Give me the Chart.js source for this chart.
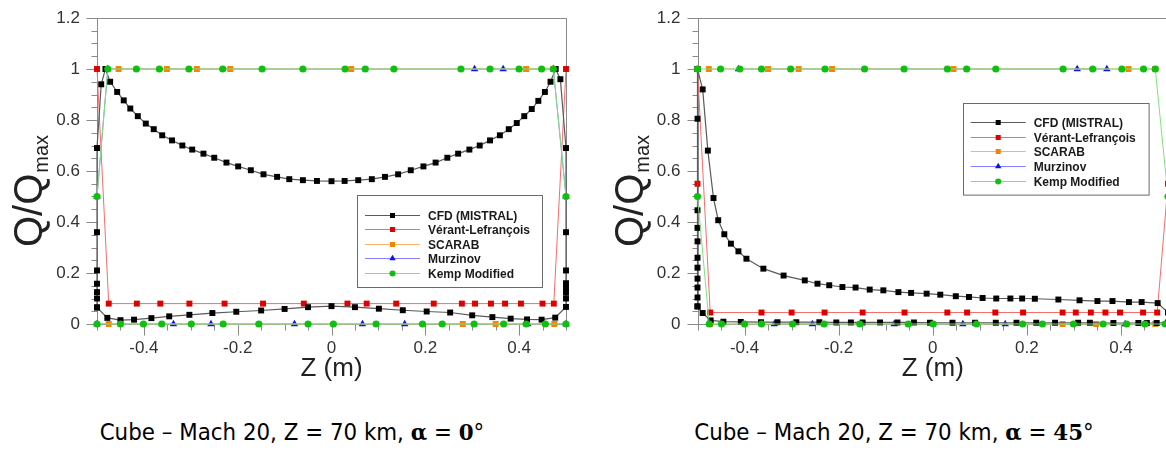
<!DOCTYPE html>
<html>
<head>
<meta charset="utf-8">
<script src="https://cdn.jsdelivr.net/npm/chart.js@4.4.1/dist/chart.umd.min.js"></script>
<style>
html, body { margin: 0; padding: 0; background: #fff; width: 1166px; height: 450px; overflow: hidden; }
.box { position: absolute; top: 0; height: 400px; }
#boxA { left: 0; width: 590px; }
#boxB { left: 600px; width: 580px; }
.caption { position: absolute; top: 418px; font-family: Tahoma, "DejaVu Sans", sans-serif; font-size: 23px; color: #000; white-space: nowrap; transform: translateX(-50%) scaleX(0.93); }
.caption .m { font-family: "DejaVu Serif", serif; font-weight: bold; }
</style>
</head>
<body>
<div class="box" id="boxA"><canvas id="chartA" width="590" height="400"></canvas></div>
<div class="box" id="boxB"><canvas id="chartB" width="580" height="400"></canvas></div>
<div class="caption" style="left:292px">Cube – Mach 20, Z = 70 km, <span class="m">α</span> = <span class="m">0</span>°</div>
<div class="caption" style="left:894px">Cube – Mach 20, Z = 70 km, <span class="m">α</span> = <span class="m">45</span>°</div>
<script>
// ---- axes ----
const xTickVals = [-0.4, -0.2, 0, 0.2, 0.4];
const xTickLabels = ['-0.4', '-0.2', '0', '0.2', '0.4'];
const yTickVals = [0, 0.2, 0.4, 0.6, 0.8, 1, 1.2];
const yTickLabels = ['0', '0.2', '0.4', '0.6', '0.8', '1', '1.2'];
const seriesNames = ['CFD (MISTRAL)', 'Vérant-Lefrançois', 'SCARAB', 'Murzinov', 'Kemp Modified'];

// ---- alpha = 0 deg ----
const cfd0 = [[-0.5,0.065],[-0.5,0.10],[-0.5,0.125],[-0.5,0.158],[-0.5,0.21],[-0.5,0.36],[-0.5,0.69],[-0.491,0.94],[-0.482,1.0],
  [-0.472,0.95],[-0.457,0.91],[-0.443,0.877],[-0.429,0.845],[-0.413,0.815],[-0.396,0.786],[-0.379,0.764],[-0.361,0.74],[-0.34,0.72],
  [-0.318,0.70],[-0.297,0.684],[-0.273,0.668],[-0.25,0.652],[-0.224,0.633],[-0.199,0.618],[-0.172,0.603],[-0.145,0.587],[-0.116,0.577],
  [-0.09,0.568],[-0.061,0.564],[-0.031,0.561],[0,0.56],[0.028,0.561],[0.057,0.564],[0.086,0.568],[0.114,0.577],[0.142,0.587],[0.169,0.603],
  [0.196,0.618],[0.222,0.633],[0.247,0.652],[0.27,0.668],[0.294,0.684],[0.316,0.70],[0.338,0.72],[0.359,0.74],[0.378,0.764],[0.395,0.788],
  [0.411,0.815],[0.427,0.843],[0.441,0.875],[0.455,0.91],[0.467,0.95],[0.478,1.0],[0.488,0.96],
  [0.5,0.69],[0.5,0.36],[0.5,0.21],[0.5,0.16],[0.5,0.143],[0.5,0.123],[0.5,0.10],[0.5,0.067],
  [0.477,0.025],[0.448,0.017],[0.417,0.018],[0.382,0.021],[0.343,0.027],[0.30,0.034],[0.253,0.045],[0.203,0.049],[0.152,0.054],
  [0.101,0.06],[0.05,0.066],[0,0.07],[-0.05,0.066],[-0.1,0.059],[-0.15,0.053],[-0.203,0.048],[-0.254,0.043],[-0.303,0.036],
  [-0.346,0.03],[-0.384,0.023],[-0.421,0.017],[-0.45,0.015],[-0.478,0.024],[-0.5,0.065]];
const verant0 = [[-0.5,1.0],[-0.475,0.08],[-0.415,0.08],[-0.365,0.08],[-0.303,0.08],[-0.228,0.08],[-0.146,0.08],[-0.059,0.08],
  [0.034,0.08],[0.075,0.08],[0.138,0.08],[0.218,0.08],[0.278,0.08],[0.306,0.08],[0.34,0.08],[0.37,0.08],[0.404,0.08],[0.45,0.08],
  [0.474,0.08],[0.5,1.0]];
const scarab0Top = [[-0.454,1],[-0.351,1],[-0.287,1],[-0.216,1],[0.042,1],[0.415,1],[0.473,1]];
const scarab0Side = [[-0.475,0],[0.28,0],[0.35,0],[0.475,0]];
const murz0Top = [[-0.5,0.5],[-0.477,1],[0.305,1],[0.366,1],[0.473,1],[0.5,0.5]];
const murz0Side = [[-0.5,0],[-0.337,0],[-0.257,0],[-0.079,0],[0.066,0],[0.156,0],[0.418,0],[0.5,0]];
const kemp0Top = [[-0.5,0.5],[-0.477,1],[-0.416,1],[-0.367,1],[-0.304,1],[-0.232,1],[-0.148,1],[-0.061,1],[0.029,1],[0.072,1],
  [0.133,1],[0.276,1],[0.338,1],[0.40,1],[0.448,1],[0.473,1],[0.5,0.5]];
const kemp0Side = [[-0.5,0],[-0.45,0],[-0.401,0],[-0.362,0],[-0.299,0],[-0.231,0],[-0.155,0],[-0.05,0],[0.004,0],[0.095,0],
  [0.194,0],[0.236,0],[0.304,0],[0.367,0],[0.415,0],[0.456,0],[0.5,0]];

// ---- alpha = 45 deg ----
const cfd45 = [[-0.5,0.069],[-0.5,0.104],[-0.5,0.143],[-0.5,0.178],[-0.5,0.221],[-0.5,0.26],[-0.5,0.324],[-0.5,0.377],[-0.5,0.446],
  [-0.5,0.805],[-0.5,1.0],[-0.489,0.92],[-0.478,0.68],[-0.466,0.494],[-0.456,0.407],[-0.443,0.352],[-0.429,0.315],[-0.413,0.285],
  [-0.396,0.256],[-0.36,0.217],[-0.317,0.19],[-0.272,0.171],[-0.245,0.158],[-0.22,0.152],[-0.192,0.145],[-0.164,0.143],[-0.134,0.135],
  [-0.105,0.132],[-0.073,0.125],[-0.046,0.122],[-0.013,0.119],[0.016,0.115],[0.049,0.109],[0.077,0.106],[0.106,0.102],[0.135,0.10],
  [0.165,0.10],[0.19,0.10],[0.217,0.099],[0.267,0.096],[0.312,0.093],[0.35,0.09],[0.382,0.09],[0.417,0.086],[0.444,0.086],[0.478,0.082],
  [0.5,0.045],[0.5,0.006],[0.476,0.004],[0.455,0.004],[0.437,0.004],[0.384,0.004],[0.334,0.005],[0.309,0.005],[0.26,0.005],[0.22,0.005],
  [0.178,0.005],[0.134,0.005],[0.09,0.005],[0.042,0.005],[-0.006,0.005],[-0.04,0.006],[-0.075,0.006],[-0.112,0.006],[-0.149,0.006],
  [-0.174,0.006],[-0.205,0.006],[-0.241,0.007],[-0.29,0.007],[-0.33,0.007],[-0.365,0.007],[-0.408,0.008],[-0.445,0.009],[-0.472,0.014],
  [-0.489,0.043],[-0.5,0.069]];
const verant45 = [[-0.5,0.55],[-0.5,1.0],[-0.473,0.045],[-0.364,0.045],[-0.30,0.045],[-0.23,0.045],[-0.149,0.045],[-0.06,0.045],[0.031,0.045],
  [0.073,0.045],[0.133,0.045],[0.192,0.045],[0.276,0.045],[0.304,0.045],[0.336,0.045],[0.367,0.045],[0.398,0.045],[0.447,0.045],
  [0.477,0.045],[0.5,0.55]];
const scarab45Top = [[-0.476,1],[-0.35,1],[-0.285,1],[-0.214,1],[0.044,1],[0.416,1],[0.473,1]];
const scarab45Side = [[-0.473,0],[0.276,0],[0.347,0],[0.473,0]];
const murz45Top = [[-0.413,1],[0.307,1],[0.37,1]];
const murz45Side = [[-0.337,0],[-0.256,0],[-0.082,0],[0.064,0],[0.154,0],[0.409,0]];
const kemp45Top = [[-0.5,1],[-0.451,1],[-0.41,1],[-0.364,1],[-0.302,1],[-0.229,1],[-0.145,1],[-0.061,1],[0.031,1],[0.072,1],
  [0.134,1],[0.277,1],[0.34,1],[0.402,1],[0.448,1],[0.473,1],[0.5,0.5]];
const kemp45Side = [[-0.5,0.5],[-0.475,0],[-0.449,0],[-0.40,0],[-0.364,0],[-0.298,0],[-0.231,0],[-0.155,0],[-0.052,0],[0.001,0],
  [0.093,0],[0.191,0],[0.233,0],[0.299,0],[0.362,0],[0.412,0],[0.451,0],[0.494,0]];

const FONT = '"Liberation Sans", Arial, Helvetica, sans-serif';
// line colour, marker colour, marker shape, radius, draw order (0 = on top)
const looks = [
  {line: '#5a5a5a', mark: '#000000', shape: 'rect', r: 4.2, order: 1},
  {line: '#f26d6d', mark: '#e00000', shape: 'rect', r: 4.2, order: 2},
  {line: '#f9b46a', mark: '#f58200', shape: 'rect', r: 4.2, order: 3},
  {line: '#7f7fff', mark: '#1010e8', shape: 'triangle', r: 4.3, order: 4},
  {line: '#80e080', mark: '#10c010', shape: 'circle', r: 3.6, order: 0}
];

function toDatasets(parts) {
  return parts.map(([k, pts]) => ({
    label: seriesNames[k],
    data: pts.map(([x, y]) => ({x, y})),
    showLine: true,
    borderColor: looks[k].line,
    borderWidth: k === 0 ? 1.2 : 1,
    pointStyle: looks[k].shape,
    pointRadius: looks[k].r,
    pointBackgroundColor: looks[k].mark,
    pointBorderColor: looks[k].mark,
    pointBorderWidth: 0,
    order: looks[k].order,
    clip: false
  }));
}

const decor = {
  id: 'decor',
  beforeDatasetsDraw(chart) {
    const {ctx, chartArea: a, scales: {x, y}} = chart;
    ctx.save();
    ctx.strokeStyle = '#8a8a8a';
    ctx.lineWidth = 1;
    const L = Math.round(a.left) + 0.5, R = Math.round(a.right) + 0.5;
    const T = Math.round(a.top) + 0.5, B = Math.round(a.bottom) + 0.5;
    ctx.strokeRect(L, T, R - L, B - T);
    for (let k = 0; k <= 24; k++) {
      const py = Math.round(y.getPixelForValue(k * 0.05)) + 0.5;
      const len = k % 4 === 0 ? 11 : 6;
      ctx.beginPath(); ctx.moveTo(L - len, py); ctx.lineTo(L, py); ctx.stroke();
    }
    for (let k = 0; k <= 20; k++) {
      const px = Math.round(x.getPixelForValue(-0.5 + k * 0.05)) + 0.5;
      const len = k % 4 === 2 ? 11 : 6;
      ctx.beginPath(); ctx.moveTo(px, B); ctx.lineTo(px, B + len); ctx.stroke();
    }
    ctx.restore();
  },
  afterDraw(chart, args, opts) {
    const {ctx} = chart;
    ctx.save();
    // y axis title Q/Qmax
    ctx.translate(opts.titleX, opts.titleY);
    ctx.rotate(-Math.PI / 2);
    ctx.fillStyle = '#222';
    ctx.textBaseline = 'alphabetic';
    ctx.font = '40px ' + FONT;
    ctx.fillText('Q/Q', 0, 0);
    const w = ctx.measureText('Q/Q').width;
    ctx.font = '20px ' + FONT;
    ctx.fillText('max', w + 1, 6);
    ctx.restore();

    // legend box inside the plot
    const lg = opts.legend;
    ctx.save();
    ctx.fillStyle = '#fff';
    ctx.fillRect(lg.x, lg.y, lg.w, lg.h);
    ctx.strokeStyle = '#6a6a6a';
    ctx.lineWidth = 1;
    ctx.strokeRect(Math.round(lg.x) + 0.5, Math.round(lg.y) + 0.5, lg.w, lg.h);
    ctx.font = 'bold 12px ' + FONT;
    ctx.textBaseline = 'middle';
    seriesNames.forEach((name, k) => {
      const yy = Math.round(lg.y + 19.5 + k * 14.6) + 0.5;
      const cx = lg.x + 35.5;
      const r = looks[k].r * 0.85;
      ctx.strokeStyle = looks[k].line;
      ctx.beginPath(); ctx.moveTo(lg.x + 8, yy); ctx.lineTo(lg.x + 63, yy); ctx.stroke();
      ctx.fillStyle = looks[k].mark;
      ctx.beginPath();
      if (looks[k].shape === 'rect') ctx.rect(cx - r * 0.707, yy - r * 0.707, r * 1.414, r * 1.414);
      else if (looks[k].shape === 'circle') ctx.arc(cx, yy, r, 0, Math.PI * 2);
      else { ctx.moveTo(cx, yy - r); ctx.lineTo(cx + r * 0.87, yy + r * 0.5); ctx.lineTo(cx - r * 0.87, yy + r * 0.5); ctx.closePath(); }
      ctx.fill();
      ctx.fillStyle = '#1a1a1a';
      ctx.fillText(name, lg.x + 71, yy + 1);
    });
    ctx.restore();
  }
};

function makeChart(id, parts, padRight, yWidth, decorOpts) {
  return new Chart(document.getElementById(id), {
    type: 'scatter',
    data: {datasets: toDatasets(parts)},
    options: {
      responsive: false,
      animation: false,
      events: [],
      layout: {padding: {left: 0, right: padRight, top: 18, bottom: 0}},
      elements: {line: {tension: 0}},
      plugins: {legend: {display: false}, tooltip: {enabled: false}, decor: decorOpts},
      scales: {
        x: {
          type: 'linear', min: -0.5, max: 0.5,
          afterBuildTicks: s => { s.ticks = xTickVals.map(v => ({value: v})); },
          afterFit: s => { s.height = 76; s.paddingLeft = 0; s.paddingRight = 0; },
          grid: {display: false, drawTicks: false},
          border: {display: false},
          ticks: {padding: 14, maxRotation: 0, autoSkip: false, color: '#333', font: {family: FONT, size: 17},
            callback: (v, i) => xTickLabels[i]},
          title: {display: true, text: 'Z (m)', color: '#222', font: {family: FONT, size: 26}, padding: {top: 0, bottom: 16}}
        },
        y: {
          type: 'linear', min: 0, max: 1.2,
          afterBuildTicks: s => { s.ticks = yTickVals.map(v => ({value: v})); },
          afterFit: s => { s.width = yWidth; s.paddingTop = 0; s.paddingBottom = 0; },
          grid: {display: false, drawTicks: false},
          border: {display: false},
          ticks: {padding: 17, color: '#333', font: {family: FONT, size: 17},
            callback: (v, i) => yTickLabels[i]}
        }
      }
    },
    plugins: [decor]
  });
}

makeChart('chartA', [
  [3, murz0Top], [3, murz0Side], [2, scarab0Top], [2, scarab0Side], [1, verant0], [0, cfd0], [4, kemp0Top], [4, kemp0Side]
], 24, 97, {titleX: 42, titleY: 247, legend: {x: 357, y: 195, w: 185, h: 92}});

makeChart('chartB', [
  [3, murz45Top], [3, murz45Side], [2, scarab45Top], [2, scarab45Side], [1, verant45], [0, cfd45], [4, kemp45Top], [4, kemp45Side]
], 12, 97.5, {titleX: 42.5, titleY: 247, legend: {x: 362.7, y: 102.7, w: 185.6, h: 91.6}});
</script>
</body>
</html>
